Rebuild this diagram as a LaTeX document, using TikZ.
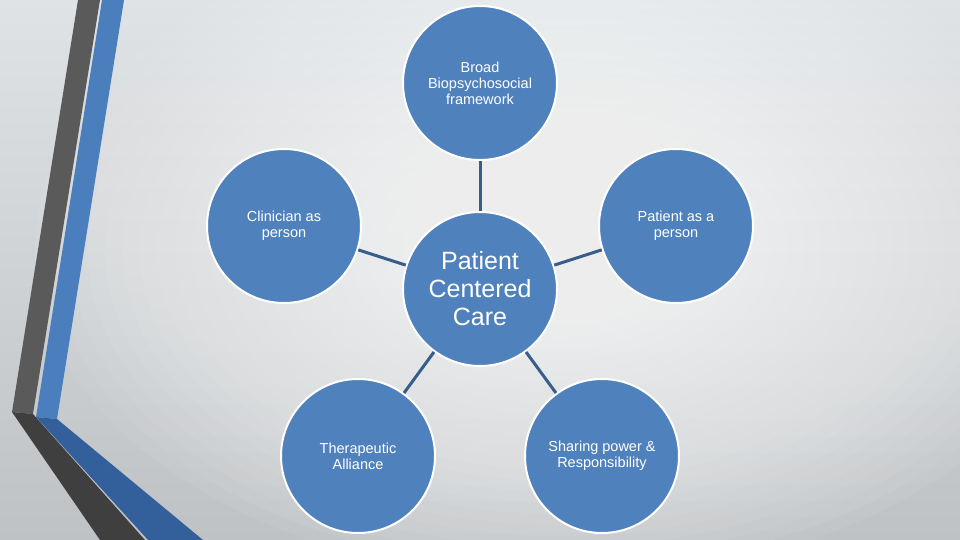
\documentclass[tikz,border=0pt]{standalone}
\usepackage{fontspec}
\setmainfont{Liberation Sans}
\definecolor{bgtop}{HTML}{E0E3E5}
\definecolor{bgbot}{HTML}{BEC2C5}
\definecolor{bubblefill}{HTML}{4F81BD}
\definecolor{linkblue}{HTML}{385D8A}
\definecolor{stripegray}{HTML}{5A5A5A}
\definecolor{stripedark}{HTML}{3F3F3F}
\definecolor{stripeblue}{HTML}{4A7EBD}
\definecolor{stripenavy}{HTML}{33609A}
\begin{document}
\begin{tikzpicture}[x=1pt, y=-1pt,
    bubble/.style={circle, draw=white, line width=2pt, fill=bubblefill, text=white,
        minimum size=154pt, inner sep=0pt, align=center, font=\fontsize{14.5}{16}\selectfont},
    link/.style={line width=3pt, draw=linkblue}]
    \useasboundingbox (0,0) rectangle (960,540);
    \shade[top color=bgtop, bottom color=bgbot] (0,0) rectangle (960,540);
    \foreach \k in {1,...,30}
        \fill[white, fill opacity=0.055] (560,250) ellipse ({17.5*\k} and {11*\k});

    \fill[stripegray] (78,0) -- (100,0) -- (33,414) -- (12,412) -- cycle;
    \fill[stripeblue] (102,0) -- (124,0) -- (57,419) -- (36,417) -- cycle;
    \fill[stripedark] (12,412) -- (33,414) -- (145,540) -- (100,540) -- cycle;
    \fill[stripenavy] (36,417) -- (57,419) -- (203,540) -- (148,540) -- cycle;

    \node[bubble] (BBF) at (480,83) {Broad\\Biopsychosocial\\framework};
    \node[bubble] (CP) at (284,226) {Clinician as\\person};
    \node[bubble] (PP) at (676,226) {Patient as a\\person};
    \node[bubble, font=\fontsize{25}{28}\selectfont] (PCC) at (480,289) {Patient\\Centered\\Care};
    \node[bubble] (TA) at (358,456) {Therapeutic\\Alliance};
    \node[bubble] (SPR) at (602,456) {Sharing power \&\\Responsibility};

    \draw[link] (PCC) -- (BBF);
    \draw[link] (PCC) -- (CP);
    \draw[link] (PCC) -- (PP);
    \draw[link] (PCC) -- (TA);
    \draw[link] (PCC) -- (SPR);
\end{tikzpicture}
\end{document}
